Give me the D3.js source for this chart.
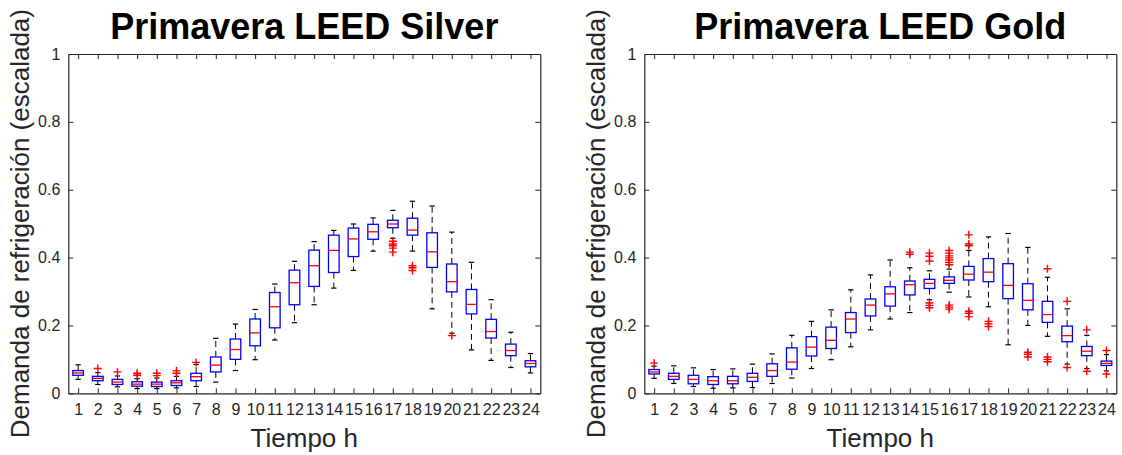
<!DOCTYPE html>
<html>
<head>
<meta charset="utf-8">
<script src="https://cdn.jsdelivr.net/npm/d3@7"></script>
<style>
  body { margin: 0; background: #fff; }
  svg { display: block; font-family: "Liberation Sans", Arial, sans-serif; }
</style>
</head>
<body>
<div id="chart"></div>
<script>
// hours on x axis
var hours = d3.range(1, 25);
var yTicks = [0, 0.2, 0.4, 0.6, 0.8, 1];

// Primavera LEED Silver (box stats per hour)
var silverLow = [0.041, 0.026, 0.019, 0.014, 0.014, 0.016, 0.020, 0.033, 0.067, 0.099, 0.157, 0.208,
  0.261, 0.310, 0.362, 0.419, 0.457, 0.419, 0.249, 0.177, 0.128, 0.097, 0.076, 0.060];
var silverQ1 = [0.053, 0.037, 0.026, 0.021, 0.020, 0.023, 0.037, 0.063, 0.100, 0.140, 0.193, 0.261,
  0.315, 0.356, 0.403, 0.454, 0.488, 0.466, 0.371, 0.299, 0.234, 0.163, 0.111, 0.078];
var silverMed = [0.060, 0.044, 0.033, 0.027, 0.027, 0.031, 0.049, 0.083, 0.129, 0.178, 0.255, 0.326,
  0.376, 0.421, 0.455, 0.476, 0.499, 0.481, 0.417, 0.329, 0.262, 0.182, 0.126, 0.088];
var silverQ3 = [0.067, 0.050, 0.041, 0.034, 0.033, 0.037, 0.059, 0.107, 0.160, 0.219, 0.297, 0.363,
  0.422, 0.466, 0.487, 0.498, 0.510, 0.516, 0.473, 0.381, 0.306, 0.218, 0.145, 0.096];
var silverHigh = [0.084, 0.061, 0.051, 0.043, 0.045, 0.050, 0.085, 0.162, 0.204, 0.247, 0.322, 0.389,
  0.447, 0.480, 0.499, 0.517, 0.539, 0.566, 0.552, 0.475, 0.386, 0.276, 0.180, 0.117];
var silverOut = [[], [0.073], [0.063], [0.059, 0.053], [0.059, 0.052], [0.066, 0.059], [0.091], [], [], [], [], [],
  [], [], [], [], [0.448, 0.440, 0.435, 0.428, 0.416], [0.376, 0.370, 0.362], [], [0.170], [], [], [], []];

// Primavera LEED Gold
var goldLow = [0.044, 0.029, 0.020, 0.015, 0.016, 0.017, 0.029, 0.045, 0.073, 0.099, 0.137, 0.187,
  0.219, 0.238, 0.276, 0.298, 0.284, 0.255, 0.143, 0.200, 0.168, 0.086, 0.073, 0.066];
var goldQ1 = [0.057, 0.041, 0.028, 0.026, 0.028, 0.035, 0.050, 0.071, 0.110, 0.132, 0.179, 0.228,
  0.257, 0.290, 0.309, 0.324, 0.334, 0.329, 0.279, 0.246, 0.209, 0.152, 0.111, 0.082];
var goldMed = [0.063, 0.050, 0.041, 0.037, 0.037, 0.047, 0.067, 0.092, 0.136, 0.156, 0.219, 0.260,
  0.293, 0.320, 0.324, 0.333, 0.351, 0.357, 0.318, 0.274, 0.232, 0.170, 0.124, 0.088];
var goldQ3 = [0.070, 0.059, 0.053, 0.049, 0.050, 0.059, 0.087, 0.134, 0.167, 0.195, 0.238, 0.278,
  0.314, 0.331, 0.336, 0.343, 0.374, 0.397, 0.382, 0.323, 0.271, 0.198, 0.138, 0.095];
var goldHigh = [0.080, 0.081, 0.075, 0.070, 0.072, 0.086, 0.116, 0.171, 0.212, 0.246, 0.305, 0.349,
  0.393, 0.370, 0.361, 0.366, 0.421, 0.461, 0.471, 0.430, 0.342, 0.249, 0.171, 0.114];
var goldOut = [[0.089], [], [], [], [], [], [], [], [], [], [], [],
  [], [0.416, 0.410], [0.413, 0.404, 0.390, 0.266, 0.259, 0.252],
  [0.421, 0.413, 0.405, 0.399, 0.393, 0.386, 0.379, 0.260, 0.254, 0.248],
  [0.467, 0.440, 0.435, 0.242, 0.236, 0.226], [0.212, 0.205, 0.197], [],
  [0.121, 0.115, 0.107], [0.367, 0.107, 0.100, 0.093], [0.271, 0.076], [0.187, 0.065], [0.126, 0.057]];

var titles = ["Primavera LEED Silver", "Primavera LEED Gold"];

var W = 1122, H = 455;
var svg = d3.select("#chart").append("svg").attr("width", W).attr("height", H);

var axisColor = "#262626";
var plotTop = 54, plotBottom = 393.3;

function drawPanel(left, right, title, low, q1, med, q3, high, out) {
  var g = svg.append("g");
  var x = d3.scaleLinear().domain([0.5, 24.5]).range([left, right]);
  var y = d3.scaleLinear().domain([0, 1]).range([plotBottom, plotTop]);
  var step = x(2) - x(1);
  var bw = step * 0.54;

  // axes frame: ticks pointing inward
  g.append("g")
    .attr("transform", "translate(0," + plotBottom + ")")
    .call(d3.axisBottom(x).tickValues(hours).tickSizeInner(-5).tickSizeOuter(0).tickPadding(10));
  g.append("g")
    .attr("transform", "translate(0," + plotTop + ")")
    .call(d3.axisTop(x).tickValues(hours).tickSizeInner(-5).tickSizeOuter(0).tickFormat(""));
  g.append("g")
    .attr("transform", "translate(" + left + ",0)")
    .call(d3.axisLeft(y).tickValues(yTicks).tickSizeInner(-5).tickSizeOuter(0).tickPadding(8)
      .tickFormat(function (d) { return d3.format("~g")(d); }));
  g.append("g")
    .attr("transform", "translate(" + right + ",0)")
    .call(d3.axisRight(y).tickValues(yTicks).tickSizeInner(-5).tickSizeOuter(0).tickFormat(""));

  g.selectAll(".domain").attr("stroke", axisColor).attr("stroke-width", 1.2);
  g.selectAll(".tick line").attr("stroke", axisColor);
  g.selectAll(".tick text")
    .attr("fill", axisColor)
    .style("font-size", "16px")
    .style("font-family", "'Liberation Sans', Arial, sans-serif");

  // whiskers (dashed)
  var boxes = g.selectAll(".bx").data(hours).enter().append("g").attr("class", "bx");
  boxes.append("line")
    .attr("x1", function (d) { return x(d); })
    .attr("x2", function (d) { return x(d); })
    .attr("y1", function (d, i) { return y(q3[i]); })
    .attr("y2", function (d, i) { return y(high[i]); })
    .attr("stroke", "#000").attr("stroke-dasharray", "6,4");
  boxes.append("line")
    .attr("x1", function (d) { return x(d); })
    .attr("x2", function (d) { return x(d); })
    .attr("y1", function (d, i) { return y(q1[i]); })
    .attr("y2", function (d, i) { return y(low[i]); })
    .attr("stroke", "#000").attr("stroke-dasharray", "6,4");
  // caps
  [high, low].forEach(function (arr) {
    boxes.append("line")
      .attr("x1", function (d) { return x(d) - bw / 4; })
      .attr("x2", function (d) { return x(d) + bw / 4; })
      .attr("y1", function (d, i) { return y(arr[i]); })
      .attr("y2", function (d, i) { return y(arr[i]); })
      .attr("stroke", "#000").attr("stroke-width", 1.2);
  });
  // box
  boxes.append("rect")
    .attr("x", function (d) { return x(d) - bw / 2; })
    .attr("width", bw)
    .attr("y", function (d, i) { return y(q3[i]); })
    .attr("height", function (d, i) { return y(q1[i]) - y(q3[i]); })
    .attr("fill", "none").attr("stroke", "#0000ff").attr("stroke-width", 1.3);
  // median
  boxes.append("line")
    .attr("x1", function (d) { return x(d) - bw / 2; })
    .attr("x2", function (d) { return x(d) + bw / 2; })
    .attr("y1", function (d, i) { return y(med[i]); })
    .attr("y2", function (d, i) { return y(med[i]); })
    .attr("stroke", "#ff0000").attr("stroke-width", 1.3);

  // outliers as red +
  var pts = [];
  hours.forEach(function (h, i) {
    out[i].forEach(function (v) { pts.push({ h: h, v: v }); });
  });
  g.selectAll(".out").data(pts).enter().append("path")
    .attr("class", "out")
    .attr("d", function (d) {
      var cx = x(d.h), cy = y(d.v), s = 4;
      return "M" + (cx - s) + "," + cy + "H" + (cx + s) + "M" + cx + "," + (cy - s) + "V" + (cy + s);
    })
    .attr("stroke", "#ff0000").attr("stroke-width", 1.4).attr("fill", "none");

  // title and labels
  var cx = (left + right) / 2;
  g.append("text")
    .attr("x", cx).attr("y", 39)
    .attr("text-anchor", "middle")
    .style("font-size", "36px").style("font-weight", "bold")
    .attr("fill", "#000")
    .text(title);
  g.append("text")
    .attr("x", cx).attr("y", 447)
    .attr("text-anchor", "middle")
    .style("font-size", "26px")
    .attr("fill", axisColor)
    .text("Tiempo h");
  g.append("text")
    .attr("transform", "translate(" + (left - 39) + "," + ((plotTop + plotBottom) / 2) + ") rotate(-90)")
    .attr("text-anchor", "middle")
    .style("font-size", "26px")
    .attr("fill", axisColor)
    .text("Demanda de refrigeración (escalada)");
}

drawPanel(68.3, 540.3, titles[0], silverLow, silverQ1, silverMed, silverQ3, silverHigh, silverOut);
drawPanel(644.3, 1116.3, titles[1], goldLow, goldQ1, goldMed, goldQ3, goldHigh, goldOut);
</script>
</body>
</html>
